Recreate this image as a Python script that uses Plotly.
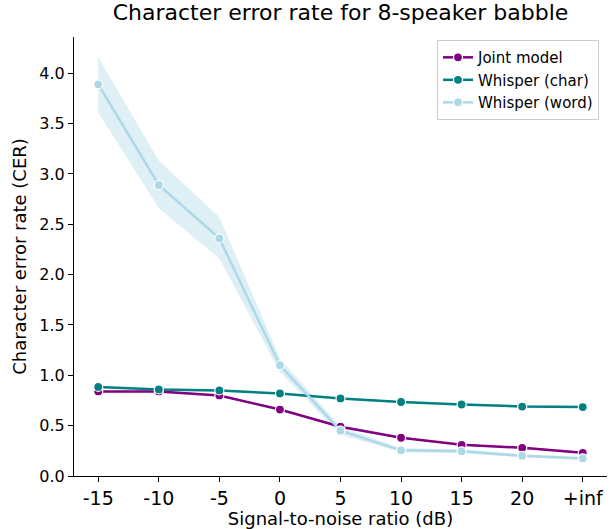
import plotly.graph_objects as go

snr_labels = ["-15", "-10", "-5", "0", "5", "10", "15", "20", "+inf"]
joint_model = [0.84, 0.84, 0.80, 0.66, 0.49, 0.38, 0.31, 0.28, 0.23]
whisper_char = [0.885, 0.86, 0.85, 0.82, 0.77, 0.735, 0.71, 0.69, 0.685]
whisper_word = [3.89, 2.89, 2.36, 1.10, 0.45, 0.255, 0.245, 0.20, 0.175]
word_lo = [3.61, 2.66, 2.16, 1.03, 0.41, 0.235, 0.225, 0.185, 0.16]
word_hi = [4.16, 3.13, 2.57, 1.17, 0.49, 0.275, 0.265, 0.215, 0.19]
joint_lo = [0.83, 0.83, 0.79, 0.65, 0.48, 0.37, 0.30, 0.27, 0.22]
joint_hi = [0.85, 0.85, 0.81, 0.67, 0.50, 0.39, 0.32, 0.29, 0.24]
char_lo = [0.875, 0.85, 0.84, 0.81, 0.76, 0.725, 0.70, 0.68, 0.675]
char_hi = [0.895, 0.87, 0.86, 0.83, 0.78, 0.745, 0.72, 0.70, 0.695]

series = [
    ("Joint model", joint_model, joint_lo, joint_hi, "#800080", "rgba(128,0,128,0.2)"),
    ("Whisper (char)", whisper_char, char_lo, char_hi, "#008080", "rgba(0,128,128,0.2)"),
    ("Whisper (word)", whisper_word, word_lo, word_hi, "#add8e6", "rgba(173,216,230,0.4)"),
]

fig = go.Figure()
for name, vals, lo, hi, col, band in series:
    fig.add_trace(go.Scatter(
        x=snr_labels + snr_labels[::-1], y=hi + lo[::-1],
        fill="toself", fillcolor=band, line=dict(width=0),
        mode="lines", hoverinfo="skip", showlegend=False))
for name, vals, lo, hi, col, band in series:
    fig.add_trace(go.Scatter(
        x=snr_labels, y=vals, name=name, mode="lines+markers",
        line=dict(color=col, width=2.5),
        marker=dict(size=9, color=col, line=dict(color="white", width=1.2))))

font = "DejaVu Sans, Arial, sans-serif"
fig.update_layout(
    width=613, height=529,
    margin=dict(l=74, r=6, t=37, b=53, autoexpand=False),
    paper_bgcolor="white", plot_bgcolor="white",
    font=dict(family=font, color="black", size=16),
    title=dict(text="Character error rate for 8-speaker babble",
               x=0.5, xref="paper", xanchor="center", y=0.977, yanchor="middle",
               font=dict(size=22, color="black")),
    legend=dict(x=0.985, y=0.993, xanchor="right", yanchor="top",
                bgcolor="rgba(255,255,255,0.8)", bordercolor="#cccccc", borderwidth=1,
                font=dict(size=15), tracegroupgap=2),
    showlegend=True,
)
fig.update_xaxes(
    type="category", categoryorder="array", categoryarray=snr_labels,
    range=[-0.4, 8.4], showgrid=False, zeroline=False, automargin=False,
    showline=True, linecolor="black", linewidth=1,
    ticks="outside", ticklen=5, tickcolor="black",
    tickfont=dict(size=19),
    title=dict(text="Signal-to-noise ratio (dB)", font=dict(size=18), standoff=4))
fig.update_yaxes(
    range=[0, 4.36], tickvals=[0, 0.5, 1, 1.5, 2, 2.5, 3, 3.5, 4],
    tickformat=".1f", showgrid=False, zeroline=False, automargin=False,
    showline=True, linecolor="black", linewidth=1,
    ticks="outside", ticklen=5, tickcolor="black",
    tickfont=dict(size=16),
    title=dict(text="Character error rate (CER)", font=dict(size=18), standoff=8))

fig.write_html("out.html", config={"displayModeBar": False},
               post_script="document.body.style.margin='0';")
